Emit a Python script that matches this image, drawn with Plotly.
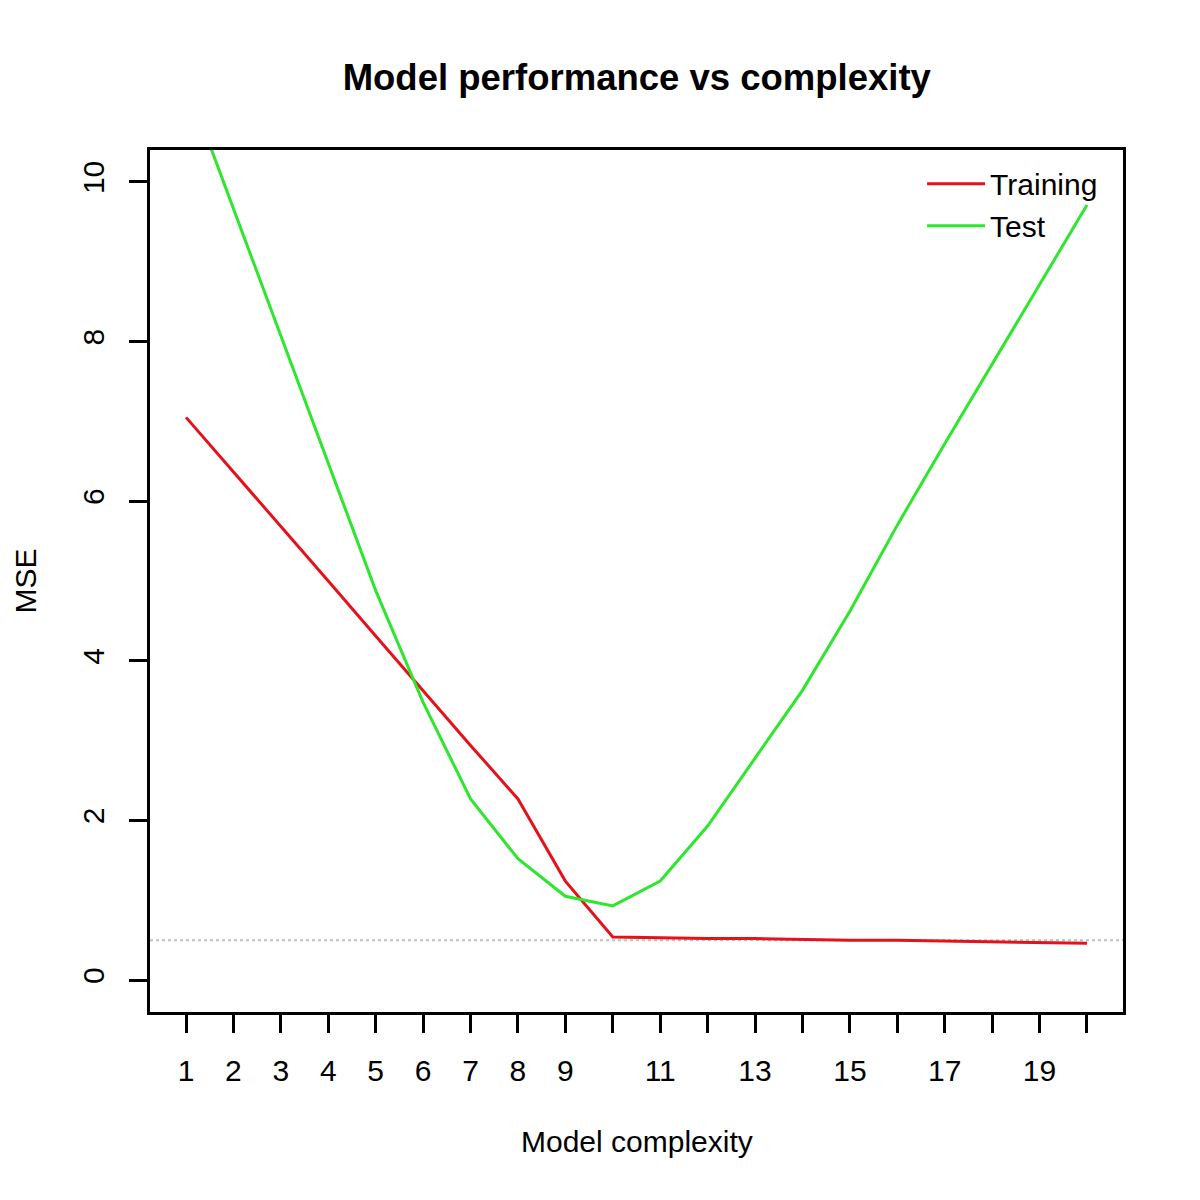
import plotly.graph_objects as go

complexity = list(range(1, 21))
training_mse = [7.05, 6.37, 5.68, 5.00, 4.31, 3.62, 2.94, 2.27, 1.24, 0.54,
                0.53, 0.52, 0.52, 0.51, 0.50, 0.50, 0.49, 0.48, 0.47, 0.46]
test_mse = [11.26, 9.67, 8.07, 6.48, 4.88, 3.48, 2.27, 1.52, 1.05, 0.93,
            1.24, 1.93, 2.78, 3.63, 4.62, 5.70, 6.72, 7.72, 8.72, 9.71]
x_tick_vals = list(range(1, 21))
x_tick_text = ["1", "2", "3", "4", "5", "6", "7", "8", "9", "",
               "11", "", "13", "", "15", "", "17", "", "19", ""]
y_tick_vals = [0, 2, 4, 6, 8, 10]
reference_level = 0.5

FONT = "Liberation Sans, Arial, Helvetica, sans-serif"

fig = go.Figure()
fig.add_trace(go.Scatter(x=complexity, y=training_mse, mode="lines", name="Training",
                         line=dict(color="#E3121B", width=3)))
fig.add_trace(go.Scatter(x=complexity, y=test_mse, mode="lines", name="Test",
                         line=dict(color="#2EE62E", width=3)))

fig.add_shape(type="line", xref="paper", x0=0, x1=1, yref="y", y0=reference_level, y1=reference_level,
              line=dict(color="#BEBEBE", width=2, dash="dot"), layer="below")

fig.update_layout(
    width=1200, height=1200,
    paper_bgcolor="white", plot_bgcolor="white",
    margin=dict(l=142, r=85, t=142, b=196),
    font=dict(family=FONT, size=30, color="black"),
    title=dict(text="<b>Model performance vs complexity</b>", x=0.524, xanchor="center",
               y=1 - 69 / 1200, yanchor="middle", yref="container",
               font=dict(size=36.5, family=FONT, color="black")),
    showlegend=True,
    legend=dict(x=0.7935, xanchor="left", y=0.991, yanchor="top", bgcolor="rgba(0,0,0,0)",
                font=dict(size=30, family=FONT), itemwidth=58, tracegroupgap=0),
    annotations=[
        dict(text="Model complexity", xref="paper", yref="paper", x=0.5, y=-0.1497,
             xanchor="center", yanchor="middle", showarrow=False, font=dict(size=30)),
        dict(text="MSE", xref="paper", yref="paper", x=-0.128, y=0.5, textangle=-90,
             xanchor="center", yanchor="middle", showarrow=False, font=dict(size=30)),
    ],
)

fig.update_xaxes(range=[0.24, 20.76], tickmode="array", tickvals=x_tick_vals, ticktext=x_tick_text,
                 showgrid=False, zeroline=False, showline=True, mirror=True, linecolor="black",
                 linewidth=3, ticks="outside", ticklen=18, tickwidth=2.5, tickcolor="black",
                 ticklabelstandoff=12, tickfont=dict(size=30))
fig.update_yaxes(range=[-0.4, 10.4], tickmode="array", tickvals=y_tick_vals,
                 showgrid=False, zeroline=False, showline=True, mirror=True, linecolor="black",
                 linewidth=3, ticks="outside", ticklen=18, tickwidth=2.5, tickcolor="black",
                 tickangle=-90, ticklabelstandoff=13, tickfont=dict(size=30))

fig.write_html("out.html")
